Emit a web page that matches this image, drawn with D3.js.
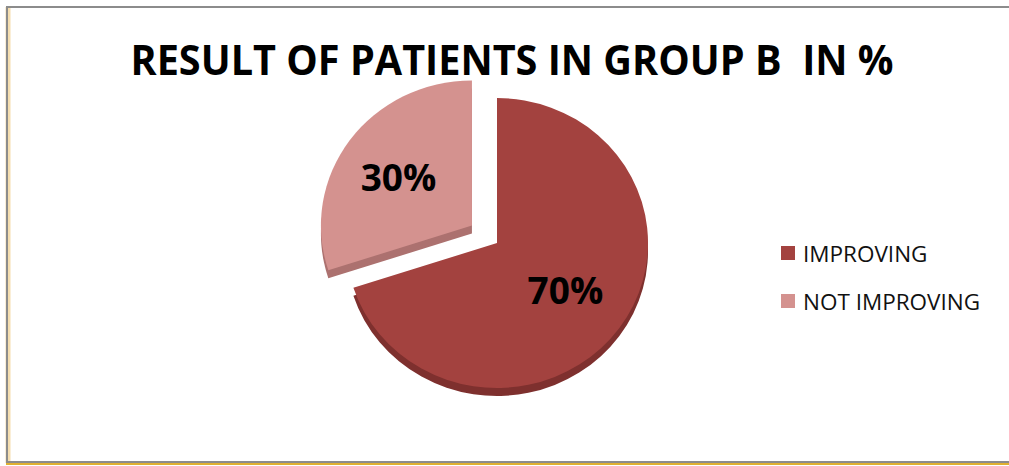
<!DOCTYPE html>
<html lang="en">
  <head>
    <meta charset="utf-8">
    <title>Result of patients in group B</title>
    <script src="https://cdn.jsdelivr.net/npm/d3@7"></script>
    <style>
      body { margin: 0; background: #fff; }
    </style>
  </head>
  <body>
    <script>

      // chart data
      var categories = ["IMPROVING", "NOT IMPROVING"];
      var values = [70, 30];
      var labels = ["70%", "30%"];
      var exploded = [false, true];

      var colors = ["#A3423F", "#D4928F"];
      var sideColors = ["#7E302E", "#AC716F"];

      var W = 1009, H = 466;
      var svg = d3.select("body").append("svg")
                  .attr("width", W)
                  .attr("height", H);

      // frame
      svg.append("line").attr("x1", 8).attr("x2", 8).attr("y1", 7).attr("y2", 463)
         .attr("stroke", "#f5deb0").attr("stroke-width", 5);
      svg.append("line").attr("x1", 6).attr("x2", W).attr("y1", 464).attr("y2", 464)
         .attr("stroke", "#e0b030").attr("stroke-width", 2);
      svg.append("rect")
         .attr("x", 7).attr("y", 7).attr("width", W + 10).attr("height", 455)
         .attr("fill", "none").attr("stroke", "#8c8c8c").attr("stroke-width", 2);

      // title
      svg.append("text")
         .attr("x", 512).attr("y", 75)
         .attr("text-anchor", "middle")
         .attr("textLength", 763)
         .attr("lengthAdjust", "spacingAndGlyphs")
         .style("white-space", "pre")
         .style("font-family", "'Open Sans', sans-serif")
         .style("font-weight", "bold")
         .style("font-size", "41px")
         .text("RESULT OF PATIENTS IN GROUP B  IN %");

      // pie
      var cx = 497, cy = 243, r = 151, tilt = 145 / 151, depth = 8, explode = 31;

      var pie = d3.pie().sort(null).startAngle(0).endAngle(2 * Math.PI);
      var arcs = pie(values);
      var arc = d3.arc().innerRadius(0).outerRadius(r);
      var labelArc = d3.arc().innerRadius(r * 0.56).outerRadius(r * 0.56);

      function offset(d, i) {
        if (!exploded[i]) return [0, 0];
        var a = (d.startAngle + d.endAngle) / 2;
        return [Math.sin(a) * explode, -Math.cos(a) * explode * tilt];
      }

      var g = svg.append("g");

      // sides (drawn first, shifted down)
      g.selectAll("path.side")
       .data(arcs)
       .enter().append("path")
       .attr("class", "side")
       .attr("transform", function(d, i) {
         var o = offset(d, i);
         return "translate(" + (cx + o[0]) + "," + (cy + o[1] + depth) + ") scale(1," + tilt + ")";
       })
       .attr("d", arc)
       .attr("fill", function(d, i) { return sideColors[i]; });

      // tops
      g.selectAll("path.top")
       .data(arcs)
       .enter().append("path")
       .attr("class", "top")
       .attr("transform", function(d, i) {
         var o = offset(d, i);
         return "translate(" + (cx + o[0]) + "," + (cy + o[1]) + ") scale(1," + tilt + ")";
       })
       .attr("d", arc)
       .attr("fill", function(d, i) { return colors[i]; });

      // slice labels
      g.selectAll("text.lbl")
       .data(arcs)
       .enter().append("text")
       .attr("class", "lbl")
       .attr("x", function(d, i) { return cx + offset(d, i)[0] + labelArc.centroid(d)[0] - (exploded[i] ? 5 : 0); })
       .attr("y", function(d, i) { return cy + offset(d, i)[1] + labelArc.centroid(d)[1] * tilt + 13; })
       .attr("text-anchor", "middle")
       .style("font-family", "'Open Sans', sans-serif")
       .style("font-weight", "bold")
       .style("font-size", "37px")
       .text(function(d, i) { return labels[i]; });

      // legend
      var legend = svg.selectAll("g.legend")
                      .data(categories)
                      .enter().append("g")
                      .attr("class", "legend")
                      .attr("transform", function(d, i) { return "translate(781," + (246 + i * 48) + ")"; });
      legend.append("rect")
            .attr("width", 14).attr("height", 14)
            .attr("fill", function(d, i) { return colors[i]; });
      legend.append("text")
            .attr("x", 22).attr("y", 16)
            .style("font-family", "'Open Sans', sans-serif")
            .style("font-size", "22.5px")
            .style("fill", "#111")
            .text(function(d) { return d; });

    </script>
  </body>
</html>
